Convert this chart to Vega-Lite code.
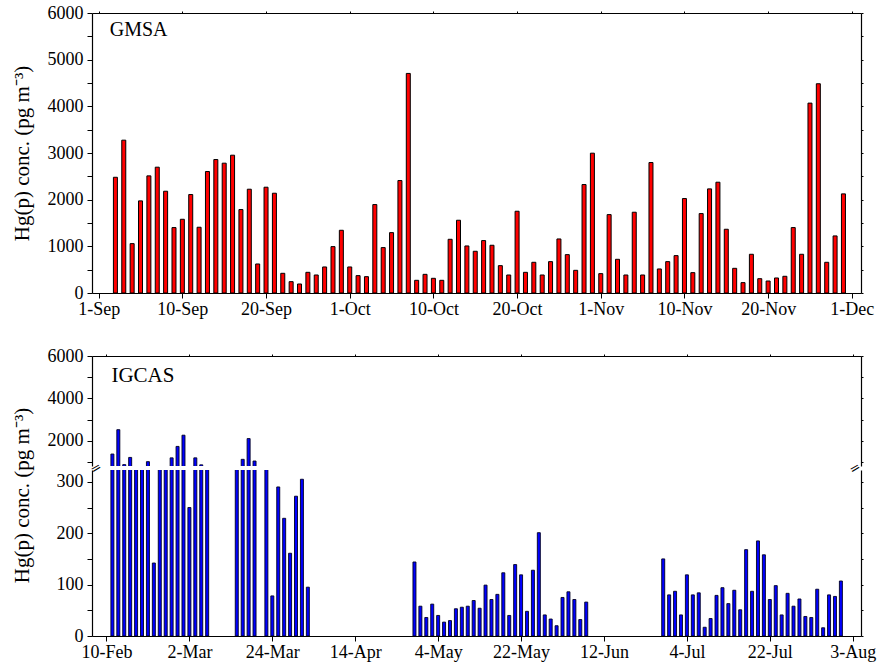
{
 "$schema": "https://vega.github.io/schema/vega-lite/v6.json",
 "autosize": {"type": "pad"},
 "padding": {"left": 10, "top": 4, "right": 2, "bottom": 5},
 "background": "white",
 "config": {
  "view": {"stroke": null},
  "font": "Liberation Serif",
  "axis": {"grid": false, "domainColor": "black", "tickColor": "black", "labelColor": "black", "titleColor": "black",
   "labelFont": "Liberation Serif", "titleFont": "Liberation Serif", "labelFontSize": 18, "titleFontSize": 21,
   "titleFontWeight": "normal", "labelOverlap": false, "labelFlush": false, "labelBound": false, "domainWidth": 1.2, "tickWidth": 1}
 },
 "datasets": {
  "gmsa": [
   {"day":2,"v":2480},{"day":3,"v":3275},{"day":4,"v":1058},{"day":5,"v":1974},{"day":6,"v":2510},{"day":7,"v":2696},{"day":8,"v":2181},{"day":9,"v":1402},{"day":10,"v":1580},{"day":11,"v":2110},
   {"day":12,"v":1409},{"day":13,"v":2603},{"day":14,"v":2860},{"day":15,"v":2782},{"day":16,"v":2953},{"day":17,"v":1788},{"day":18,"v":2224},{"day":19,"v":622},{"day":20,"v":2267},{"day":21,"v":2138},
   {"day":22,"v":422},{"day":23,"v":243},{"day":24,"v":193},{"day":25,"v":443},{"day":26,"v":386},{"day":27,"v":558},{"day":28,"v":994},{"day":29,"v":1344},{"day":30,"v":558},{"day":31,"v":372},
   {"day":32,"v":350},{"day":33,"v":1895},{"day":34,"v":973},{"day":35,"v":1294},{"day":36,"v":2410},{"day":37,"v":4705},{"day":38,"v":272},{"day":39,"v":400},{"day":40,"v":315},{"day":41,"v":272},
   {"day":42,"v":1151},{"day":43,"v":1559},{"day":44,"v":1008},{"day":45,"v":894},{"day":46,"v":1123},{"day":47,"v":1023},{"day":48,"v":586},{"day":49,"v":386},{"day":50,"v":1752},{"day":51,"v":443},
   {"day":52,"v":658},{"day":53,"v":386},{"day":54,"v":672},{"day":55,"v":1158},{"day":56,"v":822},{"day":57,"v":486},{"day":58,"v":2324},{"day":59,"v":2996},{"day":60,"v":415},{"day":61,"v":1680},
   {"day":62,"v":722},{"day":63,"v":386},{"day":64,"v":1731},{"day":65,"v":386},{"day":66,"v":2796},{"day":67,"v":515},{"day":68,"v":672},{"day":69,"v":801},{"day":70,"v":2024},{"day":71,"v":436},
   {"day":72,"v":1702},{"day":73,"v":2231},{"day":74,"v":2374},{"day":75,"v":1366},{"day":76,"v":529},{"day":77,"v":222},{"day":78,"v":830},{"day":79,"v":307},{"day":80,"v":257},{"day":81,"v":322},
   {"day":82,"v":358},{"day":83,"v":1402},{"day":84,"v":830},{"day":85,"v":4069},{"day":86,"v":4484},{"day":87,"v":658},{"day":88,"v":1223},{"day":89,"v":2124}
  ],
  "igcas": [
   {"s":1,"v":1370},{"s":2,"v":2520},{"s":3,"v":870},{"s":4,"v":1210},{"s":5,"v":600},{"s":6,"v":550},{"s":7,"v":1010},{"s":8,"v":142},{"s":9,"v":650},{"s":10,"v":500},
   {"s":11,"v":1190},{"s":12,"v":1730},{"s":13,"v":2260},{"s":14,"v":250},{"s":15,"v":1190},{"s":16,"v":860},{"s":17,"v":600},
   {"s":22,"v":600},{"s":23,"v":1120},{"s":24,"v":2100},{"s":25,"v":1040},{"s":27,"v":600},{"s":28,"v":78},{"s":29,"v":290},{"s":30,"v":229},{"s":31,"v":161},{"s":32,"v":272},{"s":33,"v":305},{"s":34,"v":95},
   {"s":52,"v":144},{"s":53,"v":58},{"s":54,"v":36},{"s":55,"v":62},{"s":56,"v":40},{"s":57,"v":27},{"s":58,"v":30},{"s":59,"v":53},{"s":60,"v":56},{"s":61,"v":58},
   {"s":62,"v":69},{"s":63,"v":54},{"s":64,"v":99},{"s":65,"v":71},{"s":66,"v":81},{"s":67,"v":123},{"s":68,"v":40},{"s":69,"v":139},{"s":70,"v":119},{"s":71,"v":48},
   {"s":72,"v":128},{"s":73,"v":201},{"s":74,"v":41},{"s":75,"v":33},{"s":76,"v":20},{"s":77,"v":75},{"s":78,"v":86},{"s":79,"v":71},{"s":80,"v":32},{"s":81,"v":66},
   {"s":94,"v":150},{"s":95,"v":80},{"s":96,"v":87},{"s":97,"v":41},{"s":98,"v":119},{"s":99,"v":80},{"s":100,"v":84},{"s":101,"v":17},{"s":102,"v":34},{"s":103,"v":79},
   {"s":104,"v":94},{"s":105,"v":63},{"s":106,"v":89},{"s":107,"v":51},{"s":108,"v":168},{"s":109,"v":87},{"s":110,"v":185},{"s":111,"v":158},{"s":112,"v":71},{"s":113,"v":98},
   {"s":114,"v":41},{"s":115,"v":83},{"s":116,"v":58},{"s":117,"v":72},{"s":118,"v":38},{"s":119,"v":36},{"s":120,"v":91},{"s":121,"v":16},{"s":122,"v":80},{"s":123,"v":77},{"s":124,"v":107}
  ]
 },
 "bounds": "flush",
 "spacing": 63,
 "vconcat": [
  {
   "width": 769, "height": 280,
   "data": {"name": "gmsa"},
   "layer": [
    {"mark": {"type": "bar", "size": 4, "fill": "#ff0000", "stroke": "black", "strokeWidth": 1},
     "encoding": {
      "x": {"field": "day", "type": "quantitative", "scale": {"domain": [-0.2, 90.5], "nice": false, "zero": false},
       "axis": {"orient": "bottom", "values": [0,10,20,30,40,50,60,70,80,90], "labelExpr": "['1-Sep','10-Sep','20-Sep','1-Oct','10-Oct','20-Oct','1-Nov','10-Nov','20-Nov','1-Dec'][round(datum.value/10)]", "tickSize": 5, "labelPadding": 2, "title": null}},
      "y": {"field": "v", "type": "quantitative", "scale": {"domain": [0, 6000], "nice": false},
       "axis": {"orient": "left", "values": [0,500,1000,1500,2000,2500,3000,3500,4000,4500,5000,5500,6000], "labelExpr": "datum.value % 1000 == 0 ? '' + datum.value : ''", "tickSize": 5, "labelPadding": 4,
        "title": "Hg(p) conc. (pg m⁻³)", "titleX": -70, "titleY": 140, "titleBaseline": "middle", "titleAlign": "center", "titleAngle": -90}}
     }},
    {"data": {"values": [{}]},
     "mark": {"type": "point", "opacity": 0},
     "encoding": {
      "x": {"datum": 0, "type": "quantitative", "scale": {"domain": [-0.2, 90.5], "nice": false, "zero": false},
       "axis": {"orient": "top", "values": [0,10,20,30,40,50,60,70,80,90], "labels": false, "tickSize": 2, "title": null}},
      "y": {"datum": 0, "type": "quantitative", "scale": {"domain": [0, 6000], "nice": false},
       "axis": {"orient": "right", "values": [0,500,1000,1500,2000,2500,3000,3500,4000,4500,5000,5500,6000], "labels": false, "tickSize": 2, "title": null}}
     }},
    {"data": {"values": [{}]},
     "mark": {"type": "text", "align": "left", "baseline": "alphabetic", "fontSize": 20, "font": "Liberation Serif", "color": "black"},
     "encoding": {
      "x": {"datum": 1.32, "type": "quantitative", "scale": {"domain": [-0.2, 90.5], "nice": false, "zero": false}, "axis": null},
      "y": {"datum": 5514, "type": "quantitative", "scale": {"domain": [0, 6000], "nice": false}, "axis": null},
      "text": {"value": "GMSA"}
     }}
   ],
   "resolve": {"axis": {"x": "independent", "y": "independent"}}
  },
  {
   "bounds": "flush",
   "spacing": 4,
   "vconcat": [
    {
     "width": 769, "height": 110,
     "data": {"name": "igcas"},
     "layer": [
      {"mark": {"type": "bar", "size": 3, "fill": "#0000ff", "stroke": "#000022", "strokeWidth": 0.9, "clip": true},
       "encoding": {
        "x": {"field": "s", "type": "quantitative", "scale": {"domain": [-1.6, 126.55], "nice": false, "zero": false},
         "axis": {"orient": "top", "values": [0,14,28,42,56,70,84,98,112,126], "labels": false, "tickSize": 2, "title": null}},
        "y": {"field": "v", "type": "quantitative", "scale": {"domain": [805, 6000], "nice": false, "zero": false},
         "axis": {"orient": "left", "values": [1000,2000,3000,4000,5000,6000], "labelExpr": "datum.value % 2000 == 0 ? '' + datum.value : ''", "tickSize": 5, "labelPadding": 4, "title": null}}
       }},
      {"data": {"values": [{}]},
       "mark": {"type": "point", "opacity": 0},
       "encoding": {
        "x": {"datum": 0, "type": "quantitative", "scale": {"domain": [-1.6, 126.55], "nice": false, "zero": false}, "axis": null},
        "y": {"datum": 1000, "type": "quantitative", "scale": {"domain": [805, 6000], "nice": false, "zero": false},
         "axis": {"orient": "right", "values": [1000,2000,3000,4000,5000,6000], "labels": false, "tickSize": 2, "title": null}}
       }},
      {"data": {"values": [{}]},
       "mark": {"type": "text", "align": "left", "baseline": "alphabetic", "fontSize": 21, "font": "Liberation Serif", "color": "black"},
       "encoding": {
        "x": {"datum": 0.83, "type": "quantitative", "scale": {"domain": [-1.6, 126.55], "nice": false, "zero": false}, "axis": null},
        "y": {"datum": 4772, "type": "quantitative", "scale": {"domain": [805, 6000], "nice": false, "zero": false}, "axis": null},
        "text": {"value": "IGCAS"}
       }}
     ],
     "resolve": {"axis": {"x": "independent", "y": "independent"}}
    },
    {
     "width": 769, "height": 166,
     "data": {"name": "igcas"},
     "layer": [
      {"mark": {"type": "bar", "size": 3, "fill": "#0000ff", "stroke": "#000022", "strokeWidth": 0.9, "clip": true},
       "encoding": {
        "x": {"field": "s", "type": "quantitative", "scale": {"domain": [-1.6, 126.55], "nice": false, "zero": false},
         "axis": {"orient": "bottom", "values": [0,14,28,42,56,70,84,98,112,126], "labelExpr": "['10-Feb','2-Mar','24-Mar','14-Apr','4-May','22-May','12-Jun','4-Jul','22-Jul','3-Aug'][round(datum.value/14)]", "tickSize": 5, "labelPadding": 2, "title": null}},
        "y": {"field": "v", "type": "quantitative", "scale": {"domain": [0, 323], "nice": false},
         "axis": {"orient": "left", "values": [0,50,100,150,200,250,300], "labelExpr": "datum.value % 100 == 0 ? '' + datum.value : ''", "tickSize": 5, "labelPadding": 4,
          "title": "Hg(p) conc. (pg m⁻³)", "titleX": -70, "titleY": 25, "titleBaseline": "middle", "titleAlign": "center", "titleAngle": -90}}
       }},
      {"data": {"values": [{}]},
       "mark": {"type": "point", "opacity": 0},
       "encoding": {
        "x": {"datum": 0, "type": "quantitative", "scale": {"domain": [-1.6, 126.55], "nice": false, "zero": false}, "axis": null},
        "y": {"datum": 0, "type": "quantitative", "scale": {"domain": [0, 323], "nice": false},
         "axis": {"orient": "right", "values": [0,50,100,150,200,250,300], "labels": false, "tickSize": 2, "title": null}}
       }},
      {"data": {"values": [{}]},
       "mark": {"type": "text", "align": "center", "baseline": "middle", "fontSize": 13, "font": "DejaVu Sans", "color": "black", "angle": -30, "dy": -2, "text": "="},
       "encoding": {
        "x": {"datum": -1.6, "type": "quantitative", "scale": {"domain": [-1.6, 126.55], "nice": false, "zero": false}, "axis": null},
        "y": {"datum": 323, "type": "quantitative", "scale": {"domain": [0, 323], "nice": false}, "axis": null}
       }},
      {"data": {"values": [{}]},
       "mark": {"type": "text", "align": "center", "baseline": "middle", "fontSize": 13, "font": "DejaVu Sans", "color": "black", "angle": -30, "dy": -2, "text": "="},
       "encoding": {
        "x": {"datum": 126.55, "type": "quantitative", "scale": {"domain": [-1.6, 126.55], "nice": false, "zero": false}, "axis": null},
        "y": {"datum": 323, "type": "quantitative", "scale": {"domain": [0, 323], "nice": false}, "axis": null}
       }}
     ],
     "resolve": {"axis": {"x": "independent", "y": "independent"}}
    }
   ]
  }
 ]
}
